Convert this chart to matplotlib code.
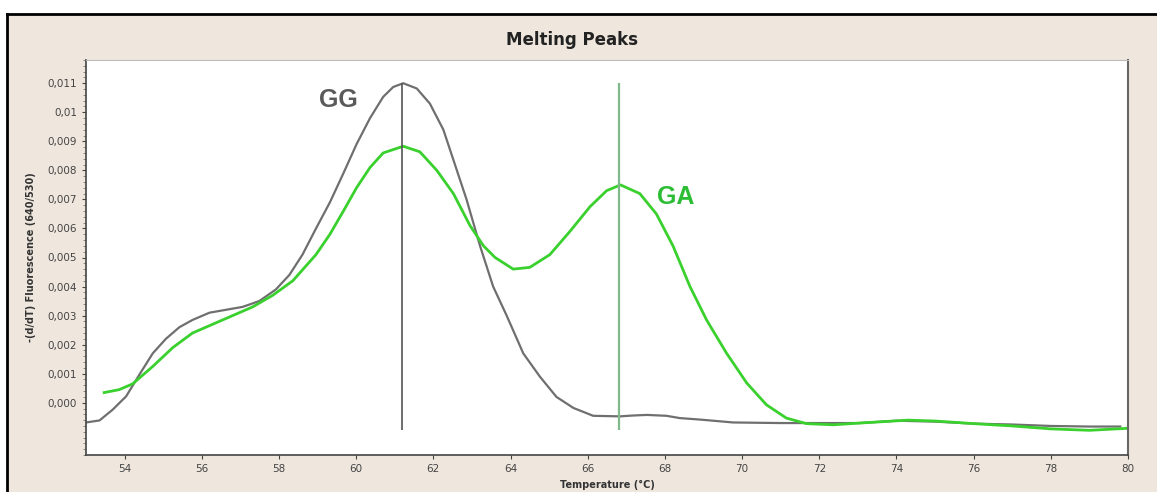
import numpy as np
import matplotlib.pyplot as plt
from matplotlib.patches import Rectangle
from matplotlib.ticker import MultipleLocator, FuncFormatter

# Крива плавлення для генотипу GG
gg_temp = [53.0, 53.35, 53.69, 54.04, 54.38, 54.73, 55.07, 55.42, 55.76, 56.2,
           56.63, 57.06, 57.49, 57.92, 58.27, 58.61, 58.96, 59.32, 59.67, 60.01,
           60.36, 60.7, 60.96, 61.22, 61.57, 61.91, 62.26, 62.56, 62.86, 63.21,
           63.55, 63.9, 64.33, 64.76, 65.19, 65.63, 66.14, 66.83, 67.18, 67.53,
           68.04, 68.39, 68.91, 69.77, 71.0, 72.0, 73.05, 74.0, 75.0, 76.0, 77.0,
           78.0, 79.0, 79.8]
gg_value = [-0.00068, -0.00061, -0.00024, 0.00022, 0.00096, 0.0017, 0.0022, 0.0026,
            0.00285, 0.0031, 0.0032, 0.0033, 0.0035, 0.0039, 0.0044, 0.0051, 0.0060,
            0.0069, 0.0079, 0.0089, 0.0098, 0.01053, 0.01087, 0.0110, 0.01082,
            0.0103, 0.0094, 0.0082, 0.0070, 0.0054, 0.0040, 0.0030, 0.0017, 0.0009,
            0.0002, -0.00018, -0.00045, -0.00047, -0.00044, -0.00042, -0.00045,
            -0.00053, -0.00058, -0.00068, -0.00070, -0.00070, -0.00070, -0.00062,
            -0.00065, -0.00072, -0.00075, -0.00080, -0.00082, -0.00082]

# Крива плавлення для генотипу GA
ga_temp = [53.47, 53.86, 54.21, 54.73, 55.25, 55.76, 56.28, 56.8, 57.32, 57.84,
           58.36, 58.96, 59.32, 59.67, 60.01, 60.36, 60.7, 61.22, 61.65, 62.09,
           62.52, 62.95, 63.3, 63.6, 64.07, 64.5, 65.02, 65.54, 66.06, 66.49, 66.85,
           67.35, 67.78, 68.21, 68.65, 69.08, 69.6, 70.12, 70.63, 71.15, 71.67,
           72.36, 73.05, 74.3, 75.0, 76.0, 77.0, 78.0, 79.0, 80.0]
ga_value = [0.00035, 0.00045, 0.00065, 0.00125, 0.0019, 0.0024, 0.0027, 0.0030,
            0.0033, 0.0037, 0.0042, 0.0051, 0.0058, 0.0066, 0.0074, 0.0081, 0.0086,
            0.00883, 0.00864, 0.0080, 0.0072, 0.0061, 0.0054, 0.0050, 0.0046,
            0.00466, 0.0051, 0.0059, 0.00675, 0.0073, 0.0075, 0.0072, 0.0065,
            0.0054, 0.0040, 0.00285, 0.0017, 0.00068, -0.00007, -0.00053, -0.00072,
            -0.00076, -0.00070, -0.00060, -0.00063, -0.00072, -0.00080, -0.00090,
            -0.00095, -0.00088]

# Температури піків
peak_gg = 61.2
peak_ga = 66.8

fig = plt.figure(figsize=(11.57, 4.92), dpi=100)
fig.patch.set_facecolor('white')

# Бежева панель з чорною рамкою зверху і зліва
x0 = 7 / 1157
y1 = 1 - 14 / 492
fig.add_artist(Rectangle((x0, 0), 1 - x0, y1, transform=fig.transFigure,
                         facecolor='#efe7de', edgecolor='none', zorder=-5))
fig.add_artist(plt.Line2D([x0, 1], [y1, y1], color='black', lw=2,
                          transform=fig.transFigure, zorder=-4))
fig.add_artist(plt.Line2D([x0, x0], [0, y1], color='black', lw=2,
                          transform=fig.transFigure, zorder=-4))

ax = fig.add_axes([86 / 1157, 37 / 492, (1128 - 86) / 1157, (455 - 60) / 492])
ax.set_zorder(2)
ax.set_facecolor('white')

ax.plot(gg_temp, gg_value, color='#6f6f6f', lw=1.6)
ax.plot(ga_temp, ga_value, color='#3ad12e', lw=2.0)

ax.vlines(peak_gg, -0.00095, 0.0110, color='#555555', lw=1.2)
ax.vlines(peak_ga, -0.00095, 0.0110, color='#7fb98c', lw=1.6)

ax.text(59.53, 0.01042, 'GG', color='#5a5a5a', fontsize=18, fontweight='bold',
        family='Liberation Sans', ha='center', va='center')
ax.text(68.29, 0.00708, 'GA', color='#2dbd35', fontsize=18, fontweight='bold',
        family='Liberation Sans', ha='center', va='center')

ax.set_xlim(53, 80)
ax.set_ylim(-0.0018, 0.0118)
ax.set_xticks(np.arange(54, 81, 2))
ax.set_yticks(np.arange(0, 0.0115, 0.001))
ax.yaxis.set_minor_locator(MultipleLocator(0.0002))


def comma_fmt(v, pos):
    s = '{:.3f}'.format(v)
    if s == '0.010':
        s = '0.01'
    return s.replace('.', ',')


ax.yaxis.set_major_formatter(FuncFormatter(comma_fmt))
ax.tick_params(axis='both', labelsize=7.5, colors='#444444', length=3, width=0.8)
ax.tick_params(axis='y', which='minor', length=2, color='#777777')

for side in ['left', 'bottom']:
    ax.spines[side].set_color('#444444')
    ax.spines[side].set_linewidth(1.2)
ax.spines['top'].set_color('#bbbbbb')
ax.spines['right'].set_color('#666666')
ax.spines['right'].set_linewidth(1.5)

ax.set_ylabel('-(d/dT) Fluorescence (640/530)', fontsize=7, fontweight='bold',
              color='#333333', labelpad=8)
ax.set_xlabel('Temperature (°C)', fontsize=7, fontweight='bold', color='#333333',
              labelpad=4)

fig.text(572 / 1157, 1 - 40 / 492, 'Melting Peaks', fontsize=12, fontweight='bold',
         color='#222222', ha='center', va='center')

fig.savefig('out.png', dpi=100)
